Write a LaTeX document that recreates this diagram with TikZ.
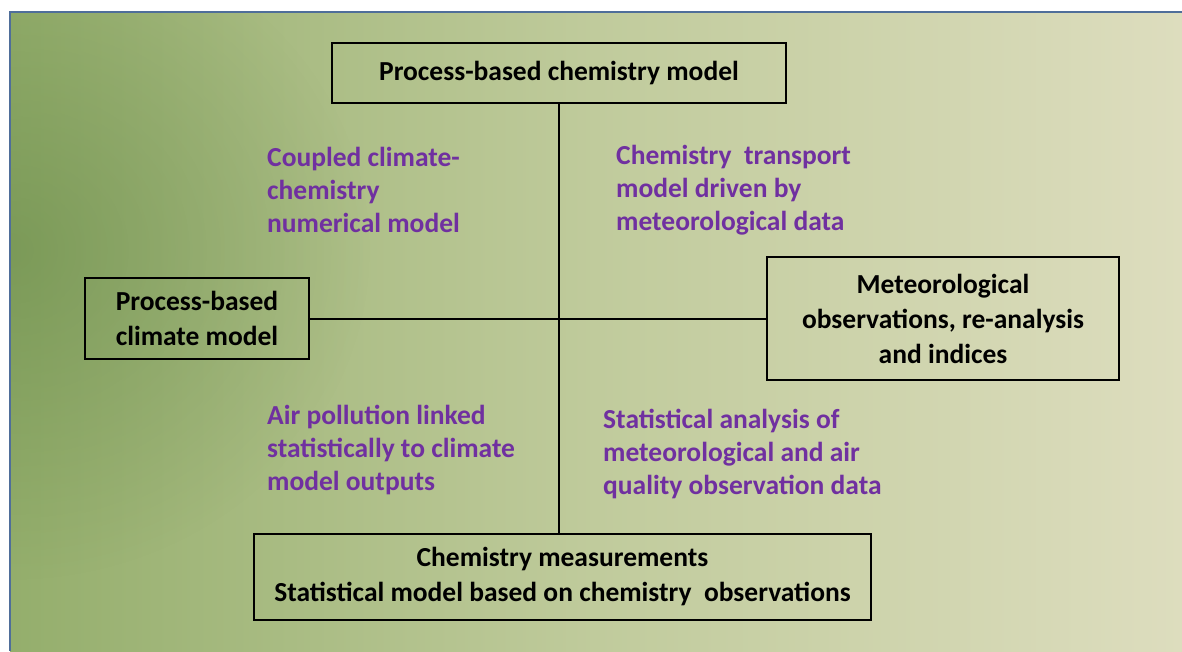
\documentclass[tikz,border=0pt]{standalone}
\usepackage{fontspec}
\setmainfont{Carlito}
\usetikzlibrary{fadings}
\definecolor{bgA}{RGB}{112,144,82}
\definecolor{bgB}{RGB}{148,174,108}
\definecolor{bgC}{RGB}{192,203,156}
\definecolor{bgE}{RGB}{221,221,190}
\definecolor{bgD}{RGB}{233,231,208}
\definecolor{bgDark}{RGB}{86,124,58}
\definecolor{edgeblue}{RGB}{79,110,154}
\definecolor{lblpurple}{RGB}{112,48,160}
\pgfdeclarehorizontalshading{bgshade}{100bp}{color(0bp)=(bgA); color(25bp)=(bgB); color(50bp)=(bgC); color(75bp)=(bgE); color(100bp)=(bgD)}
\tikzfading[name=softspot, inner color=transparent!0, outer color=transparent!100]
\tikzset{
  box/.style={draw=black, line width=1.8pt, align=center, inner sep=0pt,
    font=\fontsize{27.5}{35}\selectfont\bfseries, text=black},
  lbl/.style={align=left, inner sep=0pt, anchor=base west,
    font=\fontsize{27.5}{33}\selectfont\bfseries, text=lblpurple},
  link/.style={draw=black, line width=2pt}
}
\begin{document}
\begin{tikzpicture}[x=1pt,y=-1pt]
\useasboundingbox (0,0) rectangle (1182,651);
\fill[white] (0,0) rectangle (1182,651);
\shade[shading=bgshade] (10,12) rectangle (1182,651);
\begin{scope}
\clip (10,12) rectangle (1182,651);
\fill[bgDark, opacity=0.4, path fading=softspot] (10,250) ellipse [x radius=360, y radius=330];
\end{scope}
\draw[edgeblue, line width=1.6pt] (10,651) -- (10,12) -- (1182,12);

\node[box, minimum width=454, minimum height=60] (top) at (559,73) {Process-based chemistry model};
\node[box, minimum width=224, minimum height=81] (left) at (197,318.5) {Process-based\\climate model};
\node[box, minimum width=352, minimum height=123] (right) at (943,318.5) {Meteorological\\observations, re-analysis\\and indices};
\node[box, minimum width=617, minimum height=86] (bottom) at (562.5,577) {Chemistry measurements\\Statistical model based on chemistry~ observations};

\coordinate (vbot) at (top.south |- bottom.north);
\draw[link] (top.south) -- (vbot);
\draw[link] (left.east) -- (right.west);

\node[lbl] (l1) at (267,232) {Coupled climate-\\chemistry\\numerical model};
\node[lbl] (r1) at (616,230) {Chemistry~ transport\\model driven by\\meteorological data};
\node[lbl] (l2) at (267,490) {Air pollution linked\\statistically to climate\\model outputs};
\node[lbl] (r2) at (603,494) {Statistical analysis of\\meteorological and air\\quality observation data};
\end{tikzpicture}
\end{document}
